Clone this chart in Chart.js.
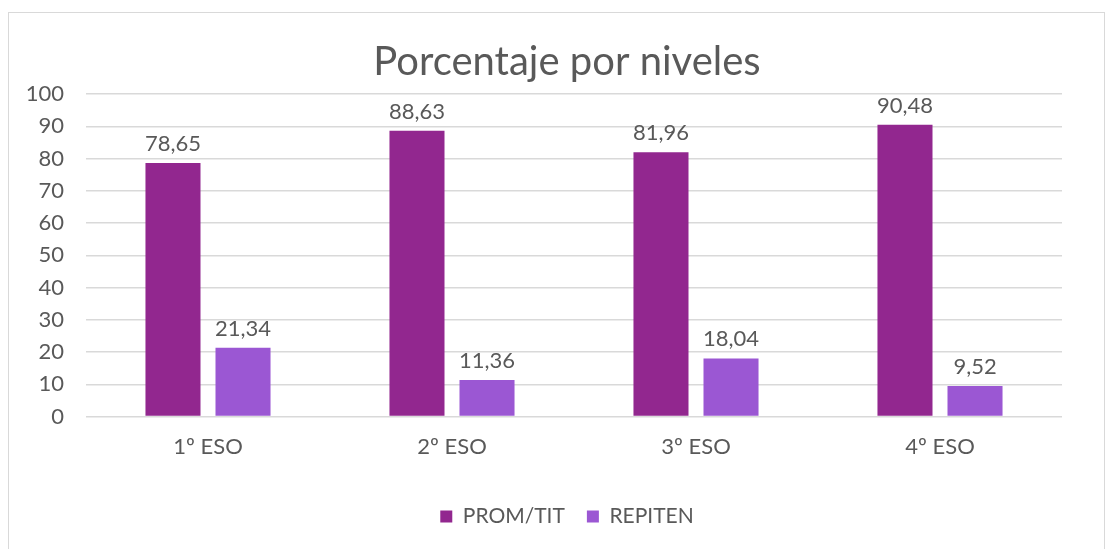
<!DOCTYPE html>
<html>
<head>
<meta charset="utf-8">
<script src="https://cdn.jsdelivr.net/npm/chart.js@4/dist/chart.umd.min.js"></script>
<style>
  html, body { margin: 0; padding: 0; background: #fff; }
  #wrap { position: absolute; left: 0; top: 0; width: 1113px; height: 549px; }
  #frame { position: absolute; left: 8px; top: 12px; width: 1097px; height: 560px; border: 1px solid #d9d9d9; box-sizing: border-box; }
</style>
</head>
<body>
<div id="frame"></div>
<div id="wrap"><canvas id="chart1"></canvas></div>
<script>
var categories = ["1º ESO", "2º ESO", "3º ESO", "4º ESO"];
var promTit = [78.65, 88.63, 81.96, 90.48];
var repiten = [21.34, 11.36, 18.04, 9.52];

var FONT = "Lato, 'Open Sans', sans-serif";
var GREY = "#595959";

// etiquetas encima de cada barra, con coma decimal
var barLabels = {
  id: 'barLabels',
  afterDatasetsDraw: function (chart) {
    var ctx = chart.ctx;
    ctx.save();
    ctx.font = "22px " + FONT;
    ctx.fillStyle = GREY;
    ctx.textAlign = "center";
    ctx.textBaseline = "bottom";
    chart.data.datasets.forEach(function (ds, i) {
      chart.getDatasetMeta(i).data.forEach(function (bar, j) {
        var txt = ds.data[j].toFixed(2).replace(".", ",");
        ctx.fillText(txt, bar.x, bar.y - 8);
      });
    });
    ctx.restore();
  }
};

var ctx = document.getElementById("chart1").getContext("2d");

// ancho de la etiqueta más larga del eje Y (para alinearla a la derecha fuera del eje)
ctx.font = "22px " + FONT;
var widest = ctx.measureText("100").width;

var myChart = new Chart(ctx, {
  type: "bar",
  data: {
    labels: categories,
    datasets: [{
      label: "PROM/TIT",
      data: promTit,
      backgroundColor: "#92278f"
    }, {
      label: "REPITEN",
      data: repiten,
      backgroundColor: "#9b57d3"
    }]
  },
  options: {
    responsive: true,
    maintainAspectRatio: false,
    animation: false,
    datasets: {
      bar: { categoryPercentage: 0.574, barPercentage: 0.786 }
    },
    layout: { padding: { left: 72, right: 51, top: 38, bottom: 12 } },
    plugins: {
      title: {
        display: true,
        text: "Porcentaje por niveles",
        color: GREY,
        font: { family: FONT, size: 40, weight: "normal" },
        padding: { top: 0, bottom: 8 }
      },
      legend: {
        position: "bottom",
        labels: {
          color: GREY,
          font: { family: FONT, size: 21 },
          usePointStyle: true,
          pointStyle: "rect",
          boxWidth: 12,
          boxHeight: 12,
          padding: 22
        }
      },
      tooltip: { enabled: false }
    },
    scales: {
      x: {
        grid: { display: false },
        border: { display: false },
        ticks: { color: GREY, font: { family: FONT, size: 22 }, padding: 9 },
        afterFit: function (scale) { scale.height += 15; }
      },
      y: {
        min: 0,
        max: 100,
        ticks: {
          stepSize: 10, color: GREY, font: { family: FONT, size: 22 },
          mirror: true, crossAlign: "far", padding: -(22 + widest)
        },
        grid: { color: "#d9d9d9", lineWidth: 1.5, drawTicks: false },
        border: { display: false },
        afterFit: function (scale) { scale.width = 14; }
      }
    }
  },
  plugins: [barLabels]
});
</script>
</body>
</html>
